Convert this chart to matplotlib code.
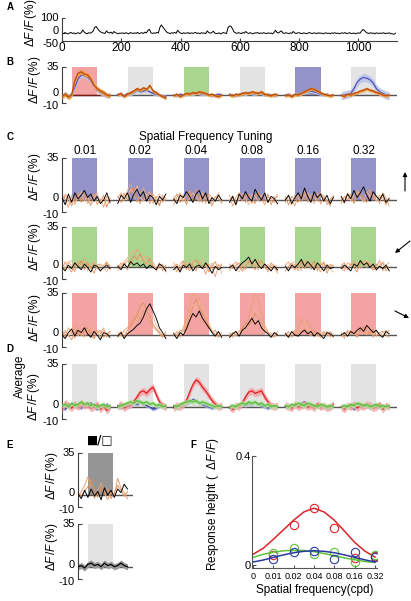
import numpy as np
import matplotlib
matplotlib.use("Agg")
import matplotlib.pyplot as plt
from matplotlib.patches import Rectangle, FancyArrowPatch

plt.rcParams['font.family'] = ['Liberation Sans', 'DejaVu Sans']
plt.rcParams['mathtext.fontset'] = 'custom'
plt.rcParams['mathtext.rm'] = 'Liberation Sans'
plt.rcParams['mathtext.it'] = 'Liberation Sans:italic'
plt.rcParams['mathtext.bf'] = 'Liberation Sans:bold'

# ---------------- data ----------------
# Panel A: full trace, one value every 5 frames
a_frames_step = 5
a_trace = [3,-2,5,0,-4,2,6,-1,3,-3,1,4,-2,5,22,8,0,-3,4,1,
           6,14,38,45,30,18,10,4,2,-1,16,5,3,8,-2,12,4,1,-3,2,
           0,3,-2,4,1,-4,5,2,-1,3,0,6,-2,2,4,-1,8,3,20,26,
           4,-1,3,0,6,2,38,55,42,30,15,5,2,-2,4,1,6,0,20,8,
           2,-3,4,0,1,5,-2,3,0,2,6,-1,3,-3,4,1,2,-2,16,5,
           1,4,14,3,-2,0,3,-4,2,5,1,-1,38,48,46,30,10,3,0,4,
           2,-2,5,1,12,3,-1,4,0,-3,3,2,5,-1,2,0,4,1,-2,3,
           0,2,-3,4,20,6,2,10,16,3,-1,4,1,-2,3,0,12,2,-1,3,
           4,0,-2,3,1,-3,2,5,0,-1,3,1,-2,4,0,2,-3,1,3,0,
           1,-2,3,0,4,-1,2,-3,1,3,0,5,-2,1,4,-1,0,2,-3,1,
           3,0,14,25,18,8,2,-1,4,0,2,-3,3,1,-1,2,0,4,-2,1,
           0,3,-2,-4,-6,1]
a_xticks = [0, 200, 400, 600, 800, 1000]

# Panel B: mean responses (6 stimuli x 16 samples)
b_orange = [-2,1,-3,0,18,27,29,26,25,20,12,8,5,3,0,-1,
            0,2,-2,1,3,5,8,6,9,7,12,5,3,0,-2,-4,
            -1,1,-2,0,2,1,3,2,4,3,2,0,1,-1,-2,0,
            0,-1,1,0,2,3,2,4,3,2,4,1,0,-1,1,0,
            -1,0,-2,1,0,2,4,6,8,7,5,3,1,0,-1,0,
            0,-2,1,0,2,3,5,6,8,6,5,3,2,0,-1,0]
b_blue = [-2,2,-1,0,10,20,25,24,22,18,12,6,3,1,-1,0,
          1,0,-1,2,1,3,6,4,5,6,4,2,1,0,-1,-2,
          0,-1,1,0,1,2,1,3,2,1,2,0,-1,0,1,0,
          1,0,-1,1,2,1,3,2,1,3,2,0,1,0,-1,0,
          0,1,-1,0,1,2,3,4,5,4,3,1,0,1,-1,0,
          -1,0,1,2,8,16,20,22,21,19,15,8,4,2,0,-1]
b_orange_sem = [3, 2, 2, 2, 2, 2]
b_blue_sem = [3, 2, 2, 2, 2, 5]
b_stim = ['red', 'gray', 'green', 'gray', 'blue', 'gray']

# Panel C: single trials, three directions
sf_labels = ['0.01', '0.02', '0.04', '0.08', '0.16', '0.32']
c1_black = [2,-4,5,-2,6,1,4,8,2,5,-1,3,-3,0,6,-2,
            -3,4,1,6,-2,5,9,3,7,-1,4,2,-4,3,0,5,
            1,-3,4,2,7,3,-2,5,8,1,6,-3,2,-1,4,0,
            -2,3,-4,5,1,7,2,-1,9,4,0,6,-2,3,1,-3,
            0,4,-3,2,6,1,10,3,-2,7,2,5,-1,4,-3,2,
            3,-2,5,1,8,2,6,11,4,-1,7,3,0,5,-2,1]
c1_orange_a = [5,0,-6,3,-2,4,0,6,-3,2,5,-4,1,-6,3,0,
               2,6,-1,8,14,4,-2,6,10,3,-3,5,0,-5,4,1,
               -4,2,6,-1,3,8,-2,4,0,7,-3,5,2,-1,6,-3,
               4,-5,2,6,-1,3,5,-3,2,7,1,-4,3,0,-2,5,
               -2,3,0,-5,4,1,7,-2,5,3,-1,6,2,-4,1,3,
               1,-3,6,2,-2,8,3,-1,5,9,0,4,-3,6,2,-5]
c1_orange_b = [-3,4,2,-5,1,6,-2,3,0,-4,5,2,-1,4,-6,2,
               3,-2,5,0,7,11,2,-3,4,1,6,-2,3,-4,2,0,
               0,5,-2,3,-4,6,1,9,3,-2,4,0,-5,3,1,-2,
               -1,2,-4,3,5,-2,4,1,-3,6,2,-1,5,-4,2,3,
               2,-4,3,1,-2,5,0,4,-1,3,6,-3,2,0,-5,4,
               -2,3,0,5,-3,4,7,1,-2,6,3,-1,4,2,-4,1]
c1_orange_c = [1,5,-2,4,-4,2,7,-1,3,-5,2,6,-2,3,0,-3,
               -2,3,6,2,9,5,12,3,-1,4,7,-3,2,5,-2,1,
               3,-2,1,5,-3,2,6,3,-2,5,1,4,-4,2,5,-1,
               0,4,-3,1,6,2,-4,5,3,-1,4,6,-2,1,3,-4,
               3,0,-4,5,2,-2,4,6,1,-3,5,2,4,-2,0,3,
               -3,2,5,-1,4,6,2,-2,7,3,5,-1,2,4,-3,2]

c2_black = [0,-3,2,-1,4,1,-2,3,0,-4,2,1,-3,0,2,-1,
            1,-2,3,0,5,2,4,1,3,-1,2,0,-2,3,1,-3,
            -2,1,-4,2,0,3,-3,1,2,-1,4,0,-5,1,-2,0,
            0,2,-3,1,4,6,9,3,7,2,-1,3,0,-3,1,-2,
            1,-3,2,0,3,7,1,5,2,-2,4,1,-3,2,-1,0,
            -1,2,0,-3,3,1,6,2,4,0,3,-2,1,-1,2,-3]
c2_orange_a = [3,-2,5,1,-4,6,2,8,3,-1,4,0,-3,2,5,-2,
               -1,4,2,6,3,9,16,11,7,10,4,2,-3,1,3,-4,
               2,-4,3,6,-2,4,1,-3,5,2,-6,3,0,-8,2,1,
               -3,2,5,0,3,-2,6,4,1,7,-1,3,-4,2,0,-5,
               2,5,-1,3,-3,4,2,6,-2,3,1,-4,5,-2,3,1,
               0,-3,4,2,6,-1,3,5,0,4,-2,1,6,-3,2,4]
c2_orange_b = [-2,5,0,-4,3,1,6,-2,4,0,-5,2,3,-1,4,1,
               2,0,4,-2,6,10,7,12,5,3,8,1,-1,4,-3,2,
               0,3,-2,5,1,-3,4,7,2,-1,3,-4,1,5,-2,3,
               3,-1,2,4,-3,1,5,2,-2,3,6,0,-2,4,1,-3,
               -3,1,4,-2,2,5,-1,3,0,6,-3,2,4,-5,1,2,
               1,4,-2,3,0,-4,5,2,6,1,-2,3,0,4,-3,1]
c2_orange_c = [2,-1,4,6,-2,3,0,5,-3,2,6,-1,3,0,-4,2,
               -3,2,5,8,12,15,10,6,9,4,2,5,-2,3,0,-1,
               4,1,-3,2,5,0,6,-2,3,8,1,-2,4,-1,3,-5,
               -1,3,0,-4,2,5,1,6,3,-2,4,0,3,-3,2,1,
               0,-2,3,5,1,-3,6,2,4,0,-2,5,1,3,-1,-4,
               3,0,-2,4,1,5,-1,2,6,3,0,-3,2,5,1,-2]

c3_black = [0,-3,2,5,-1,4,2,6,1,-2,3,0,-4,2,1,-2,
            -1,2,-3,1,3,5,8,10,15,22,26,20,14,6,2,-3,
            1,-3,2,0,5,12,18,15,20,14,10,6,2,-1,3,-2,
            -2,1,3,-1,4,6,10,14,9,12,6,3,1,-2,2,0,
            1,-2,3,0,-1,2,4,1,3,-1,2,0,-3,2,1,-1,
            0,2,-1,3,1,4,6,3,8,5,2,4,0,-2,3,1]
c3_orange_a = [4,-2,6,1,8,-1,3,7,2,5,-3,4,1,6,-2,3,
               2,-1,4,6,10,14,18,12,20,16,10,7,4,1,-2,3,
               -1,3,0,6,14,22,35,33,30,20,16,8,3,1,-2,2,
               1,-2,3,0,5,8,14,26,35,30,18,8,3,-1,2,0,
               0,3,-2,2,5,14,8,12,6,4,2,0,3,-1,1,-2,
               2,-3,4,1,3,-1,5,2,0,4,-2,3,1,-1,2,4]
c3_orange_b = [-2,3,0,-4,2,5,-1,3,6,0,-3,2,4,-2,1,3,
               0,3,-2,4,8,12,16,24,27,20,15,9,5,2,-1,1,
               2,-1,4,3,8,16,24,30,22,18,12,7,2,4,-1,0,
               -1,2,0,3,6,10,8,12,18,15,10,5,2,0,-2,3,
               2,-1,1,4,0,3,5,2,-1,3,1,-2,2,0,3,-1,
               -1,1,3,0,2,-2,4,7,3,1,5,-1,2,3,0,-2]
c3_orange_c = [1,4,-1,3,-3,5,2,-2,4,8,1,3,-2,4,0,2,
               -2,1,3,0,5,9,14,20,24,18,12,16,8,3,0,-2,
               0,2,-2,4,10,18,26,22,28,24,14,10,4,0,2,-1,
               2,0,-1,4,3,6,10,16,22,14,9,4,1,2,-1,1,
               -1,2,0,3,1,6,10,4,3,1,-1,2,0,3,-2,1,
               1,-2,2,4,0,3,1,5,2,6,0,3,-1,2,4,0]

# Panel D: averages per direction
d_red = [-2,3,1,-1,2,0,3,1,2,-1,0,2,-2,1,-3,0,
         0,2,-1,1,2,4,8,12,13,11,14,16,10,4,1,0,
         -1,1,0,2,5,12,18,22,20,16,13,9,5,2,0,1,
         0,-2,1,0,3,8,12,13,11,12,13,8,4,1,0,1,
         1,0,-1,2,0,1,2,0,1,-1,2,0,1,-1,0,2,
         0,-2,1,0,2,-1,1,0,2,1,-1,0,2,-2,1,0]
d_blue = [0,-2,2,1,3,0,-1,2,1,3,0,-2,1,0,2,-1,
          1,-1,2,0,1,3,2,4,2,1,0,-2,-1,1,0,-1,
          0,-1,1,2,3,4,6,5,3,2,1,0,-1,0,1,-1,
          -1,-2,0,1,2,1,3,2,4,2,1,0,-1,0,1,0,
          0,1,-1,2,1,3,4,2,1,0,2,-1,1,0,-1,1,
          0,-1,1,0,-2,1,2,0,1,-1,0,1,0,-1,1,0]
d_green = [1,2,0,3,1,2,4,2,3,1,2,0,1,2,0,1,
           0,1,2,3,4,3,5,4,3,4,2,3,1,2,0,1,
           1,0,2,3,4,5,4,5,3,4,3,2,1,0,1,0,
           0,1,0,2,3,2,4,3,4,2,3,1,2,0,1,0,
           1,0,2,1,3,2,1,3,2,1,0,2,1,0,1,0,
           0,1,0,2,1,3,2,1,2,0,1,2,0,1,0,1]
d_red_sem, d_blue_sem, d_green_sem = 3.0, 1.5, 2.0

# Panel E: black/white flash
e_black = [1,-3,4,-2,5,-1,3,-4,6,0,4,-2,5,2,9,5]
e_orange_a = [-2,3,8,15,6,-3,4,10,2,-4,3,-1,14,6,2,-3]
e_orange_b = [2,-1,3,7,13,4,-2,6,1,5,-3,2,8,4,-1,3]
e_mean = [0,1,-1,2,3,1,2,0,3,1,2,0,1,3,1,0]
e_mean_sem = 2.5

# Panel F: tuning curves
f_sf = ['0', '0.01', '0.02', '0.04', '0.08', '0.16', '0.32']
f_red_pts = [0.037, 0.147, 0.209, 0.136, 0.026, 0.033]
f_blue_pts = [0.022, 0.048, 0.051, 0.022, 0.048, 0.029]
f_green_pts = [0.044, 0.062, 0.040, 0.048, 0.011, 0.037]
f_fit_x = [0, 0.5, 1, 1.5, 2, 2.5, 3, 3.5, 4, 4.5, 5, 5.5, 6]
f_red_fit = [0.040, 0.062, 0.095, 0.130, 0.165, 0.195, 0.209, 0.195, 0.165, 0.125, 0.084, 0.052, 0.030]
f_blue_fit = [0.012, 0.019, 0.029, 0.038, 0.046, 0.051, 0.053, 0.051, 0.046, 0.038, 0.029, 0.020, 0.012]
f_green_fit = [0.029, 0.040, 0.048, 0.053, 0.055, 0.054, 0.050, 0.043, 0.035, 0.027, 0.020, 0.014, 0.010]

# ---------------- style ----------------
STIM = {'red': '#f4a3a3', 'gray': '#e3e3e3', 'green': '#a8d68f', 'blue': '#9393c9'}
ORANGES = ['#e9a273', '#df915c', '#f0b590']
SPINE = '#404040'
TICKFS = 8
W, H = 411, 601
seg_t = np.linspace(0, 8.6, 16)
stim_on, stim_off = 1.8, 6.3

fig = plt.figure(figsize=(W / 100, H / 100), dpi=100)

def add_ax(l, t, r, b):
    return fig.add_axes([l / W, 1 - b / H, (r - l) / W, (b - t) / H])

def ytick_text(ax, y, lab, va='center', dy=0, pad=3):
    ax.annotate(lab, xy=(0, y), xycoords=('axes fraction', 'data'),
                xytext=(-pad * 0.72, dy * 0.72), textcoords='offset points',
                ha='right', va=va, fontsize=TICKFS, annotation_clip=False)

def style_trace_ax(ax, yl=(-10, 35)):
    ax.set_xlim(0, 60)
    ax.set_ylim(*yl)
    for s in ['top', 'right', 'bottom']:
        ax.spines[s].set_visible(False)
    ax.spines['left'].set_color(SPINE)
    ax.spines['left'].set_linewidth(0.8)
    ax.set_xticks([])
    ax.set_yticks([-10, 0, 35])
    ax.set_yticklabels([])
    ax.tick_params(axis='y', direction='in', length=3, width=0.8, color=SPINE)
    ytick_text(ax, 35, '35')
    ytick_text(ax, 0, '0', dy=2)
    ytick_text(ax, -10, '-10', va='top', dy=2)
    ax.axhline(0, color='#555555', lw=1.0, zorder=1)
    ax.patch.set_alpha(0)

def stim_boxes(ax, colors, x0=0):
    for k, c in enumerate(colors):
        ax.add_patch(Rectangle((x0 + 10 * k + stim_on, 0), stim_off - stim_on, 35,
                               color=STIM[c], lw=0, zorder=0))

def seg_plot(ax, vals, color, lw=0.7, z=2):
    for k in range(6):
        ax.plot(10 * k + seg_t, vals[16 * k:16 * k + 16], color=color, lw=lw, zorder=z)

def seg_band(ax, vals, sem, line_c, band_c, lw=1.0, z=2, alpha=0.8):
    for k in range(6):
        v = np.array(vals[16 * k:16 * k + 16], float)
        s = sem[k] if isinstance(sem, (list, tuple)) else sem
        ax.fill_between(10 * k + seg_t, v - s, v + s, color=band_c, lw=0, alpha=alpha, zorder=z)
        ax.plot(10 * k + seg_t, v, color=line_c, lw=lw, zorder=z + 0.1)

YLAB = r'$\Delta F\,/F\,(\%)$'
def ylab(x, y, txt=YLAB, fs=8.5):
    fig.text(x / W, 1 - y / H, txt, rotation=90, ha='center', va='center', fontsize=fs)

def plabel(x, y, t):
    fig.text(x / W, 1 - y / H, t, fontsize=7, fontweight='bold', ha='center', va='center')

# ---------- Panel A ----------
axA = add_ax(62, 18, 397, 41)
ax = axA
ax.plot(np.arange(len(a_trace)) * a_frames_step, a_trace, color='black', lw=0.7)
ax.set_xlim(0, 1130)
ax.set_ylim(-50, 100)
for s in ['top', 'right']:
    ax.spines[s].set_visible(False)
for s in ['left', 'bottom']:
    ax.spines[s].set_color(SPINE)
    ax.spines[s].set_linewidth(0.8)
ax.set_xticks(a_xticks)
ax.set_yticks([-50, 0, 100])
ax.set_yticklabels([])
ytick_text(ax, 100, '100')
ytick_text(ax, 0, '0', dy=2)
ytick_text(ax, -50, '-50', va='top', dy=2, pad=4)
ax.tick_params(direction='in', length=2.5, width=0.8, labelsize=TICKFS + 0.5, pad=1, color=SPINE)
ylab(31, 23)
plabel(10, 7, 'A')

# ---------- Panel B ----------
axB = add_ax(62, 67, 397, 103)
style_trace_ax(axB)
stim_boxes(axB, b_stim)
seg_band(axB, b_blue, b_blue_sem, '#5b4db3', '#b7c6ee', lw=0.9, z=2, alpha=0.9)
seg_band(axB, b_orange, b_orange_sem, '#c0500f', '#f0a040', lw=1.0, z=3, alpha=0.9)
axB.plot([stim_on, 8.0], [0, 0], color='#7a1a10', lw=1.0, zorder=1.5)
ylab(35, 80)
plabel(10, 62, 'B')

# ---------- Panel C ----------
c_rows = [
    ((62, 158, 397, 212), 'blue', [c1_orange_a, c1_orange_b, c1_orange_c], c1_black, 177),
    ((62, 227, 397, 279), 'green', [c2_orange_a, c2_orange_b, c2_orange_c], c2_black, 247),
    ((62, 293, 397, 347), 'red', [c3_orange_a, c3_orange_b, c3_orange_c], c3_black, 318),
]
c_axes = []
for box, col, oranges, black, ly in c_rows:
    ax = add_ax(*box)
    style_trace_ax(ax)
    stim_boxes(ax, [col] * 6)
    for o, oc in zip(oranges, ORANGES):
        seg_plot(ax, o, oc, lw=0.6, z=2)
    seg_plot(ax, black, 'black', lw=0.65, z=3)
    ylab(35, ly)
    c_axes.append(ax)
for k, lab in enumerate(sf_labels):
    c_axes[0].text(10 * k + (stim_on + stim_off) / 2, 36, lab, ha='center', va='bottom', fontsize=8.5)
fig.text(206 / W, 1 - 137 / H, 'Spatial Frequency Tuning', ha='center', va='center', fontsize=8.5)
plabel(10, 137, 'C')

arrow_kw = dict(arrowstyle='-|>', lw=0.8, color='black', mutation_scale=6, shrinkA=0, shrinkB=0)
for (x1, y1, x2, y2) in [(405, 191, 405, 172), (410, 241, 395, 253), (395, 311, 409, 318)]:
    fig.add_artist(FancyArrowPatch((x1 / W, 1 - y1 / H), (x2 / W, 1 - y2 / H),
                                   transform=fig.transFigure, **arrow_kw))

# ---------- Panel D ----------
axD = add_ax(62, 364, 397, 419)
style_trace_ax(axD)
stim_boxes(axD, ['gray'] * 6)
seg_band(axD, d_blue, d_blue_sem, '#2c3aa0', '#a4a8dc', lw=0.9, z=2, alpha=0.8)
seg_band(axD, d_red, d_red_sem, '#e3262a', '#f5a3a6', lw=1.0, z=3, alpha=0.8)
seg_band(axD, d_green, d_green_sem, '#5cc23c', '#b2e29e', lw=1.0, z=4, alpha=0.8)
ylab(20, 376, 'Average')
ylab(34, 397)
plabel(10, 349, 'D')

# ---------- Panel E ----------
axE1 = add_ax(78, 453, 133, 507)
style_trace_ax(axE1)
axE1.set_xlim(0, 10)
axE1.add_patch(Rectangle((stim_on, 0), stim_off - stim_on, 35, color='#959595', lw=0, zorder=0))
t_e = np.linspace(0, 9, 16)
axE1.plot(t_e, e_orange_a, color=ORANGES[0], lw=0.7, zorder=2)
axE1.plot(t_e, e_orange_b, color=ORANGES[1], lw=0.7, zorder=2)
axE1.plot(t_e, e_black, color='black', lw=0.7, zorder=3)
ylab(52, 476)
fig.text(100 / W, 1 - 440 / H, '■/□', ha='center', va='center', fontsize=8.5,
         family=['DejaVu Sans'], fontweight='bold')

axE2 = add_ax(78, 524, 133, 579)
style_trace_ax(axE2)
axE2.set_xlim(0, 10)
axE2.add_patch(Rectangle((stim_on, 0), stim_off - stim_on, 35, color='#e3e3e3', lw=0, zorder=0))
em = np.array(e_mean, float)
axE2.fill_between(t_e, em - e_mean_sem, em + e_mean_sem, color='#9a9a9a', lw=0, zorder=2)
axE2.plot(t_e, em, color='black', lw=0.9, zorder=3)
ylab(52, 547)
plabel(10, 445, 'E')

# ---------- Panel F ----------
axF = add_ax(252, 456, 377, 568)
ax = axF
pos = np.arange(1, 7)
for pts, fit, c in [(f_red_pts, f_red_fit, '#d9252a'), (f_green_pts, f_green_fit, '#5cc23c'),
                    (f_blue_pts, f_blue_fit, '#2c3aa0')]:
    ax.plot(f_fit_x, fit, color=c, lw=1.1)
    ax.plot(pos, pts, 'o', mfc='none', mec=c, ms=6, mew=0.8)
ax.set_xlim(-0.05, 6.1)
ax.set_ylim(-0.01, 0.4)
for s in ['top', 'right']:
    ax.spines[s].set_visible(False)
for s in ['left', 'bottom']:
    ax.spines[s].set_color('#555555')
    ax.spines[s].set_linewidth(0.8)
ax.set_xticks(range(7))
ax.set_xticklabels(f_sf)
ax.set_yticks([0, 0.4])
ax.set_yticklabels(['0', '0.4'])
ax.tick_params(axis='x', direction='in', length=2, labelsize=6.5, pad=3, color='#555555')
ax.tick_params(axis='y', direction='in', length=3, labelsize=8, pad=1, color='#555555')
ax.set_xlabel('Spatial frequency(cpd)', fontsize=8.5, labelpad=2)
ylab(213, 504, r'Response height (  $\Delta F\,/F$)')
plabel(193, 445, 'F')

fig.savefig('out.png', dpi=100)
